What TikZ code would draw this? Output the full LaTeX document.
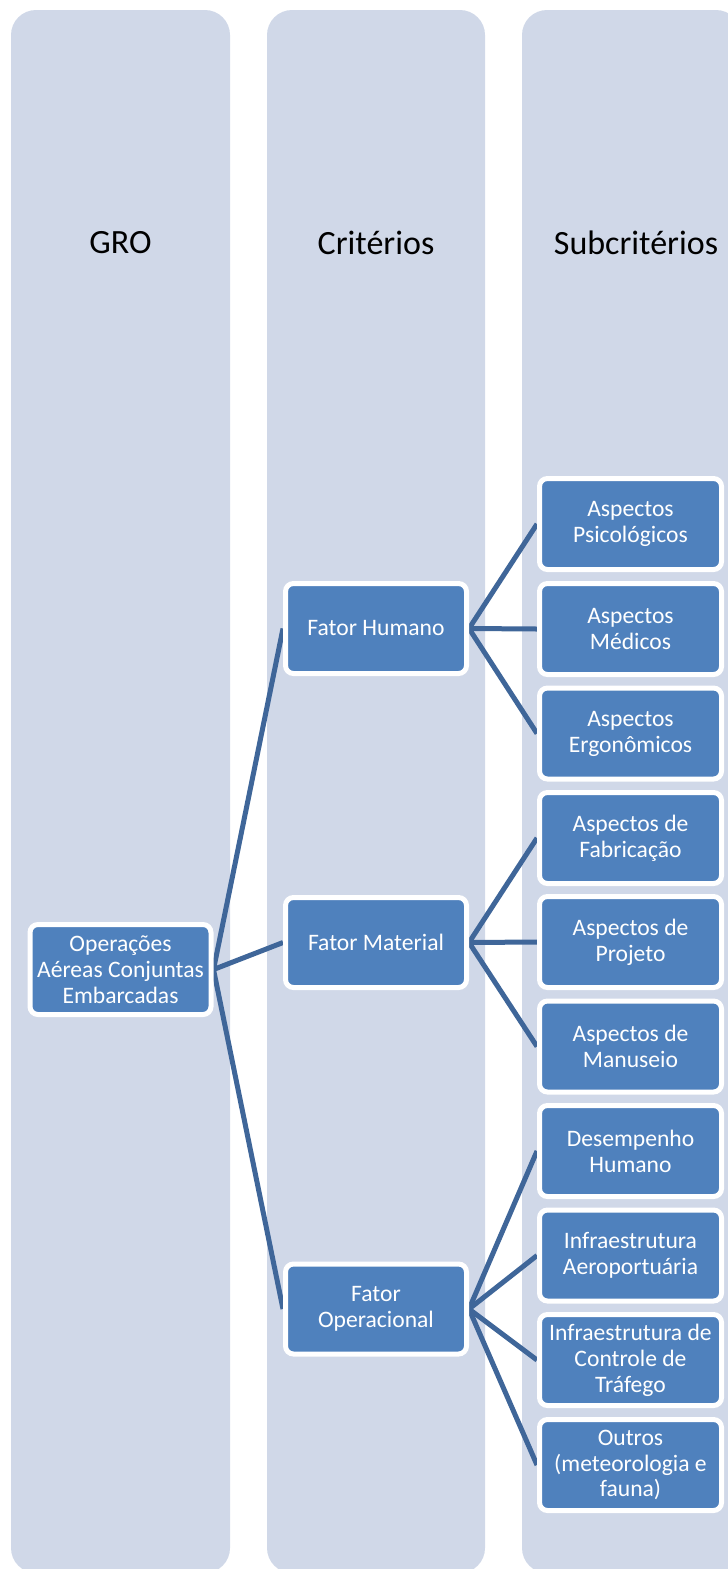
\documentclass[tikz,border=0pt]{standalone}
\usepackage{fontspec}
\setmainfont{Carlito}
\definecolor{colfill}{HTML}{D0D8E8}
\definecolor{boxfill}{HTML}{4F81BD}
\definecolor{linkcol}{HTML}{3F6699}
\pgfdeclarelayer{bg}
\pgfdeclarelayer{links}
\pgfsetlayers{bg,links,main}
\tikzset{
  colbox/.style={fill=colfill, rounded corners=25pt},
  header/.style={text=black, font=\fontsize{34}{40}\selectfont},
  itembox/.style={draw=white, line width=5pt, fill=boxfill, rounded corners=8pt,
    text=white, align=center, inner sep=0pt, minimum width=181pt, minimum height=90pt,
    font=\fontsize{23.6}{25.9}\selectfont},
  subbox/.style={itembox, minimum width=182pt, minimum height=91pt},
  link/.style={draw=linkcol, line width=5pt}
}
\begin{document}
\begin{tikzpicture}[x=1pt,y=-1pt]
\useasboundingbox (0,0) rectangle (728,1569);
\begin{pgfonlayer}{bg}
\fill[colbox] (11,10) rectangle (230,1573);
\fill[colbox] (267,10) rectangle (485,1573);
\fill[colbox] (522,10) rectangle (741,1573);
\end{pgfonlayer}
\node[header] (hgro) at (120.5,243) {GRO};
\node[header] (hcrit) at (376,243) {Critérios};
\node[header] (hsub) at (636,243) {Subcritérios};

\node[itembox] (root) at (120.5,969.5) {Operações\\Aéreas Conjuntas\\Embarcadas};

\node[itembox] (fh) at (376,628.5) {Fator Humano};
\node[itembox] (fm) at (376,942.5) {Fator Material};
\node[itembox] (fo) at (376,1309) {Fator\\Operacional};

\node[subbox] (s1) at (630.5,524) {Aspectos\\Psicológicos};
\node[subbox] (s2) at (630.5,629) {Aspectos\\Médicos};
\node[subbox] (s3) at (630.5,733.5) {Aspectos\\Ergonômicos};
\node[subbox] (s4) at (630.5,838) {Aspectos de\\Fabricação};
\node[subbox] (s5) at (630.5,942) {Aspectos de\\Projeto};
\node[subbox] (s6) at (630.5,1046.5) {Aspectos de\\Manuseio};
\node[subbox] (s7) at (630.5,1151) {Desempenho\\Humano};
\node[subbox] (s8) at (630.5,1255.5) {Infraestrutura\\Aeroportuária};
\node[subbox] (s9) at (630.5,1360) {Infraestrutura de\\Controle de\\Tráfego};
\node[subbox] (s10) at (630.5,1465) {Outros\\(meteorologia e\\fauna)};

\begin{pgfonlayer}{links}
\draw[link] (root.east) -- (fh.west);
\draw[link] (root.east) -- (fm.west);
\draw[link] (root.east) -- (fo.west);
\foreach \s in {s1,s2,s3} \draw[link] (fh.east) -- (\s.west);
\foreach \s in {s4,s5,s6} \draw[link] (fm.east) -- (\s.west);
\foreach \s in {s7,s8,s9,s10} \draw[link] (fo.east) -- (\s.west);
\end{pgfonlayer}
\end{tikzpicture}
\end{document}
